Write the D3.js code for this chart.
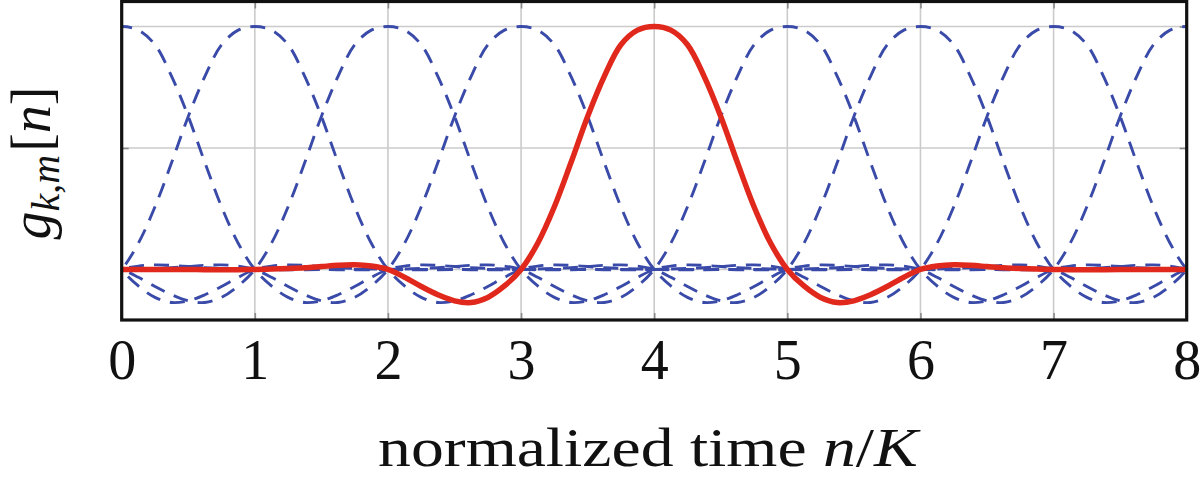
<!DOCTYPE html>
<html><head><meta charset="utf-8">
<script src="https://cdn.jsdelivr.net/npm/d3@7"></script>
<style>body{margin:0;background:#fff}svg{display:block}</style>
</head><body><svg id="c" width="1200" height="477"></svg>
<script>
// ---- data ----
const xTicks = [0, 1, 2, 3, 4, 5, 6, 7, 8];
const xTickLabels = ["0", "1", "2", "3", "4", "5", "6", "7", "8"];
const yTicks = [0, 0.5, 1];
// prototype pulse: offset from its centre (in n/K) and its value
const pulseOffsets = [-4, -3.875, -3.75, -3.625, -3.5, -3.375, -3.25, -3.125, -3, -2.875, -2.75, -2.625, -2.5,
  -2.375, -2.25, -2.125, -2, -1.875, -1.75, -1.625, -1.5, -1.375, -1.25, -1.125, -1, -0.875, -0.75, -0.625,
  -0.5, -0.375, -0.25, -0.125, 0, 0.125, 0.25, 0.375, 0.5, 0.625, 0.75, 0.875, 1, 1.125, 1.25, 1.375, 1.5,
  1.625, 1.75, 1.875, 2, 2.125, 2.25, 2.375, 2.5, 2.625, 2.75, 2.875, 3, 3.125, 3.25, 3.375, 3.5,
  3.625, 3.75, 3.875, 4];
const pulseValues = [0, 0, 0, 0, 0, -0.001, -0.001, -0.001, 0, 0.002, 0.004, 0.007, 0.012,
  0.017, 0.019, 0.014, 0, -0.032, -0.070, -0.104, -0.129, -0.136, -0.115, -0.068, 0, 0.108, 0.258, 0.44,
  0.63, 0.795, 0.925, 0.985, 1, 0.985, 0.925, 0.795, 0.63, 0.44, 0.258, 0.108, 0, -0.068, -0.115, -0.136, -0.129,
  -0.104, -0.070, -0.032, 0, 0.014, 0.019, 0.017, 0.012, 0.007, 0.004, 0.002, 0, -0.001, -0.001, -0.001, 0,
  0, 0, 0, 0];
const blueCenters = [-3, -2, -1, 0, 1, 2, 3, 4, 5, 6, 7, 8, 9, 10, 11];
const redCenter = 4;

// ---- layout ----
const L = 121.7, R = 1186.7, T = 1.5, B = 320;
const svg = d3.select("#c");
const x = d3.scaleLinear().domain([0, 8]).range([L, R]);
const y = d3.scaleLinear().domain([-0.208, 1.103]).range([B, T]);

svg.append("defs").append("clipPath").attr("id", "clip")
  .append("rect").attr("x", L).attr("y", T).attr("width", R - L).attr("height", B - T);

// grid
const grid = svg.append("g");
grid.selectAll(".gx").data(xTicks).join("line")
  .attr("x1", d => x(d)).attr("x2", d => x(d)).attr("y1", T).attr("y2", B)
  .attr("stroke", "#cbcbcb").attr("stroke-width", 1.6);
grid.selectAll(".gy").data(yTicks).join("line")
  .attr("x1", L).attr("x2", R).attr("y1", d => y(d)).attr("y2", d => y(d))
  .attr("stroke", "#cbcbcb").attr("stroke-width", 1.6);

// inner ticks
function tickStyle(g) {
  g.select(".domain").remove();
  g.selectAll(".tick line").attr("stroke", "#8a8a8a").attr("stroke-width", 1.6);
  g.selectAll(".tick text").remove();
}
svg.append("g").attr("transform", `translate(0,${B})`)
  .call(d3.axisBottom(x).tickValues(xTicks).tickSize(-7)).call(tickStyle);
svg.append("g").attr("transform", `translate(0,${T})`)
  .call(d3.axisTop(x).tickValues(xTicks).tickSize(-7)).call(tickStyle);
svg.append("g").attr("transform", `translate(${L},0)`)
  .call(d3.axisLeft(y).tickValues(yTicks).tickSize(-7)).call(tickStyle);
svg.append("g").attr("transform", `translate(${R},0)`)
  .call(d3.axisRight(y).tickValues(yTicks).tickSize(-7)).call(tickStyle);

// curves
const pulse = c => pulseOffsets.map((o, i) => [c + o, pulseValues[i]]);
const line = d3.line().x(d => x(d[0])).y(d => y(d[1])).curve(d3.curveCatmullRom.alpha(0.5));
const plot = svg.append("g").attr("clip-path", "url(#clip)");
plot.selectAll(".blue").data(blueCenters).join("path")
  .attr("d", c => line(pulse(c)))
  .attr("fill", "none").attr("stroke", "#3a4aa8").attr("stroke-width", 2.9)
  .attr("stroke-dasharray", "15,10");
plot.append("path").attr("d", line(pulse(redCenter)))
  .attr("fill", "none").attr("stroke", "#e0291c").attr("stroke-width", 5.5)
  .attr("stroke-linejoin", "round");

// frame
svg.append("rect").attr("x", L).attr("y", T).attr("width", R - L).attr("height", B - T)
  .attr("fill", "none").attr("stroke", "#111").attr("stroke-width", 3.2);

// tick labels
const font = "'Liberation Serif', 'DejaVu Serif', serif";
const xl = svg.append("g").attr("transform", `translate(0,${B})`)
  .call(d3.axisBottom(x).tickValues(xTicks).tickFormat((d, i) => xTickLabels[i]).tickSize(0).tickPadding(0));
xl.select(".domain").remove();
xl.selectAll(".tick text").attr("dy", null).attr("y", 59)
  .attr("font-family", font).attr("font-size", 56).attr("fill", "#111");

// x label
const xt = svg.append("text").attr("x", 648).attr("y", 466).attr("text-anchor", "middle")
  .attr("font-family", font).attr("font-size", 56).attr("fill", "#111");
xt.append("tspan").text("normalized time ");
xt.append("tspan").attr("font-style", "italic").text("n");
xt.append("tspan").text("/");
xt.append("tspan").attr("font-style", "italic").text("K");
const w = xt.node().getComputedTextLength();
xt.attr("transform", `translate(648,0) scale(${540 / w},1) translate(-648,0)`);

// y label
const yt = svg.append("text").attr("transform", `translate(50,163) rotate(-90)`)
  .attr("text-anchor", "middle").attr("font-family", font).attr("font-size", 56).attr("fill", "#111");
yt.append("tspan").attr("font-style", "italic").text("g");
yt.append("tspan").attr("font-style", "italic").attr("font-size", 40).attr("dy", 9).text("k");
yt.append("tspan").attr("font-size", 40).text(",");
yt.append("tspan").attr("font-style", "italic").attr("font-size", 40).text("m");
yt.append("tspan").attr("dy", -9).attr("dx", 3).text("[");
yt.append("tspan").attr("font-style", "italic").text("n");
yt.append("tspan").text("]");
</script></body></html>
